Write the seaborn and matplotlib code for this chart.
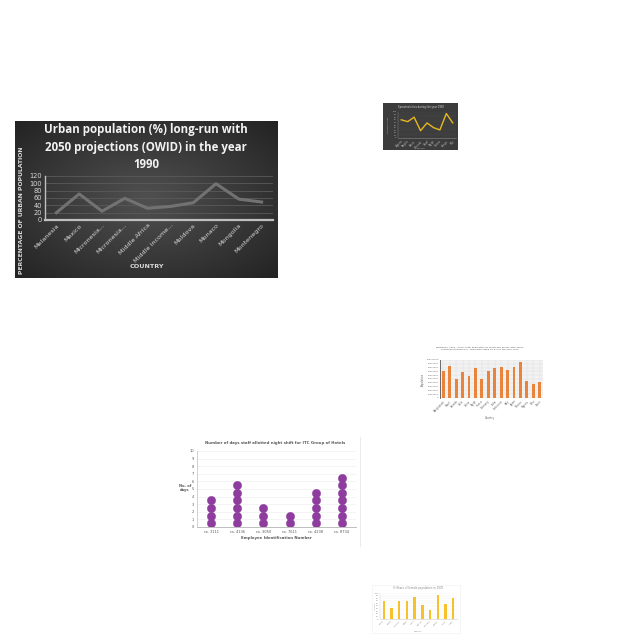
import numpy as np
import pandas as pd
import matplotlib
matplotlib.use("Agg")
import matplotlib.pyplot as plt
import seaborn as sns

# ---------------- data ----------------
# main chart: urban population (%) 1990
countries = ["Melanesia", "Mexico", "Micronesia...", "Micronesia...", "Middle Africa",
             "Middle income...", "Moldova", "Monaco", "Mongolia", "Montenegro"]
urban_pct = [20, 71, 24, 59, 32, 37, 47, 99, 57, 49]
main_yticks = [0, 20, 40, 60, 80, 100, 120]

# thumbnail: yellow line on dark background
cities = ["Algeria", "Angola", "Benin", "Burundi", "Chad", "Egypt", "Ghana", "Kenya", "Mali"]
cities_vals = [70, 63, 80, 28, 58, 40, 31, 94, 58]

# thumbnail: orange bars (population)
pop_countries = ["Bangladesh", "Brazil", "Canada", "Chile", "China", "Egypt", "France", "Germany",
                 "India", "Indonesia", "Italy", "Japan", "Mexico", "Nigeria", "Peru", "Spain"]
pop_vals = [70, 85, 50, 68, 59, 80, 51, 70, 79, 81, 74, 81, 94, 44, 36, 43]

# thumbnail: dot plot of night shifts
employees = ["ra. 3111", "ra. 4136", "ra. 3050", "ra. 7611", "ra. 4238", "ra. 8734"]
night_days = [4, 6, 3, 2, 5, 7]

# thumbnail: yellow bars (% female)
fem_countries = ["Chad", "Cuba", "Ghana", "Haiti", "India", "Kenya", "Malawi", "Nepal", "Peru", "Togo"]
fem_vals = [71, 42, 71, 68, 83, 55, 35, 94, 58, 81]

# ---------------- figure ----------------
W = H = 640
fig = plt.figure(figsize=(6.4, 6.4), dpi=100)
fig.patch.set_facecolor("white")


def px_axes(x0, y0, x1, y1, **kw):
    return fig.add_axes([x0 / W, 1 - y1 / H, (x1 - x0) / W, (y1 - y0) / H], **kw)


# ======== main chart ========
bg = px_axes(15, 121, 278, 278)
gy, gx = np.mgrid[-1:1:200j, -1:1:300j]
r = np.sqrt(gx ** 2 + gy ** 2)
grad = np.clip(1 - r / 1.45, 0, 1)
bg.imshow(grad, cmap=matplotlib.colors.LinearSegmentedColormap.from_list("g", ["#232323", "#505050"]),
          aspect="auto", extent=[0, 1, 0, 1], interpolation="bilinear")
bg.set_xlim(0, 1)
bg.set_ylim(0, 1)
bg.axis("off")

title_lines = ["Urban population (%) long-run with", "2050 projections (OWID) in the year", "1990"]
for i, t in enumerate(title_lines):
    fig.text(146 / W, 1 - (130 + 17 * i) / H, t, ha="center", va="center", color="#f2f2f2",
             fontsize=8.3, fontweight="bold", family="Open Sans")

ax = px_axes(45, 176, 273, 220)
ax.set_facecolor("none")
df_main = pd.DataFrame({"idx": np.arange(len(countries)), "urban": urban_pct})
sns.lineplot(data=df_main, x="idx", y="urban", ax=ax, color="#727272", linewidth=2.2)
ax.set_xlim(-0.5, len(countries) - 0.5)
ax.set_ylim(0, 120)
ax.set_yticks(main_yticks)
ax.set_yticklabels([str(v) for v in main_yticks], fontsize=4.8, color="#d9d9d9")
ax.set_xticks(np.arange(len(countries)))
ax.set_xticklabels(countries, rotation=45, ha="right", rotation_mode="anchor",
                   fontsize=4.6, color="#d9d9d9")
ax.tick_params(length=0, pad=2)
ax.grid(axis="y", color="#5a5a5a", linewidth=0.6)
ax.set_axisbelow(True)
for s in ["top", "right"]:
    ax.spines[s].set_visible(False)
ax.spines["bottom"].set_color("#bfbfbf")
ax.spines["bottom"].set_linewidth(1.6)
ax.spines["left"].set_color("#bfbfbf")
ax.spines["left"].set_linewidth(1.0)
ax.set_xlabel("")
ax.set_ylabel("")
fig.text(147 / W, 1 - 267 / H, "COUNTRY", ha="center", va="center", color="#d9d9d9",
         fontsize=4.6, fontweight="bold")
fig.text(22 / W, 1 - 210 / H, "PERCENTAGE OF URBAN POPULATION", ha="center", va="center",
         rotation=90, color="#d9d9d9", fontsize=4.4, fontweight="bold")

# ======== thumbnail: yellow line, dark ========
bg2 = px_axes(383, 103, 458, 150)
bg2.set_facecolor("#3c3c3c")
bg2.set_xticks([]); bg2.set_yticks([])
for s in bg2.spines.values():
    s.set_visible(False)
fig.text(421 / W, 1 - 107 / H, "Sprouted cities during the year 1990", ha="center", va="center",
         color="#e0e0e0", fontsize=1.8)
ax2 = px_axes(398, 112, 456, 138)
ax2.set_facecolor("none")
df2 = pd.DataFrame({"idx": np.arange(len(cities)), "v": cities_vals})
sns.lineplot(data=df2, x="idx", y="v", ax=ax2, color="#e6b81e", linewidth=1.0)
ax2.set_xlim(-0.5, len(cities) - 0.5)
ax2.set_ylim(0, 100)
ax2.set_yticks(np.arange(0, 101, 10))
ax2.set_yticklabels([str(v) for v in range(0, 101, 10)], fontsize=1.5, color="#bbbbbb")
ax2.set_xticks(np.arange(len(cities)))
ax2.set_xticklabels(cities, rotation=45, ha="right", rotation_mode="anchor", fontsize=1.8, color="#bbbbbb")
ax2.tick_params(length=0, pad=1)
ax2.grid(axis="y", color="#4d4d4d", linewidth=0.3)
for s in ["top", "right"]:
    ax2.spines[s].set_visible(False)
ax2.spines["bottom"].set_color("#888888"); ax2.spines["bottom"].set_linewidth(0.4)
ax2.spines["left"].set_color("#888888"); ax2.spines["left"].set_linewidth(0.3)
ax2.set_xlabel(""); ax2.set_ylabel("")
fig.text(421 / W, 1 - 148 / H, "Country", ha="center", va="center", color="#bbbbbb", fontsize=1.6)
fig.text(388 / W, 1 - 125 / H, "Sprouted cities", ha="center", va="center", rotation=90,
         color="#bbbbbb", fontsize=1.5)

# ======== thumbnail: orange bars ========
ax3 = px_axes(440, 360, 543, 398)
ax3.set_facecolor("#f2f2f2")
df3 = pd.DataFrame({"country": pop_countries, "pop": pop_vals})
sns.barplot(data=df3, x="country", y="pop", ax=ax3, color="#e8843c", width=0.45, saturation=1)
ax3.set_ylim(0, 100)
ax3.set_yticks(np.arange(0, 101, 10))
ax3.set_yticklabels([f"{v * 1000000:d}" for v in range(0, 101, 10)], fontsize=1.5, color="#666666")
ax3.set_xticks(np.arange(len(pop_countries)))
ax3.set_xticklabels(pop_countries, rotation=45, ha="right", rotation_mode="anchor", fontsize=1.8,
                    color="#666666")
ax3.tick_params(length=0, pad=1)
ax3.grid(axis="both", color="#dddddd", linewidth=0.3)
ax3.set_axisbelow(True)
for s in ["top", "right", "bottom"]:
    ax3.spines[s].set_visible(False)
ax3.spines["left"].set_color("#555555"); ax3.spines["left"].set_linewidth(0.6)
ax3.set_xlabel(""); ax3.set_ylabel("")
fig.text(480 / W, 1 - 348 / H,
         "Botswana, 1960 - 2020: Total population by broad age group, both sexes\n"
         "combined (thousands) - Population aged 15-64 for the year 1990",
         ha="center", va="center", color="#555555", fontsize=1.7, linespacing=1.3)
fig.text(490 / W, 1 - 418 / H, "Country", ha="center", va="center", color="#555555", fontsize=1.8)
fig.text(423 / W, 1 - 379 / H, "Population", ha="center", va="center", rotation=90,
         color="#555555", fontsize=1.8)

# ======== thumbnail: dot plot ========
frame4 = px_axes(186, 437, 360, 546)
frame4.set_facecolor("white")
frame4.set_xticks([]); frame4.set_yticks([])
for s in frame4.spines.values():
    s.set_visible(False)
frame4.spines["right"].set_visible(True)
frame4.spines["right"].set_color("#e6e6e6")
frame4.spines["right"].set_linewidth(0.6)

ax4 = px_axes(197, 451, 356, 527)
ax4.set_facecolor("none")
rows = []
for i, (emp, n) in enumerate(zip(employees, night_days)):
    for k in range(n):
        rows.append({"idx": i, "day": k + 0.5})
df4 = pd.DataFrame(rows)
sns.scatterplot(data=df4, x="idx", y="day", ax=ax4, color="#8e3c9e", s=36, edgecolor="#8e3c9e",
                linewidth=0.3, legend=False)
ax4.set_xlim(-0.55, len(employees) - 0.45)
ax4.set_ylim(0, 10)
ax4.set_yticks(range(0, 11))
ax4.set_yticklabels([str(v) for v in range(0, 11)], fontsize=2.6, color="#595959")
ax4.set_xticks(np.arange(len(employees)))
ax4.set_xticklabels(employees, fontsize=2.6, color="#595959")
ax4.tick_params(length=0, pad=2)
ax4.grid(axis="y", color="#ececec", linewidth=0.4)
ax4.set_axisbelow(True)
for s in ["top", "right"]:
    ax4.spines[s].set_visible(False)
ax4.spines["bottom"].set_color("#bfbfbf"); ax4.spines["bottom"].set_linewidth(0.7)
ax4.spines["left"].set_color("#bfbfbf"); ax4.spines["left"].set_linewidth(0.5)
ax4.set_xlabel(""); ax4.set_ylabel("")
fig.text(275 / W, 1 - 443 / H, "Number of days staff allotted night shift for ITC Group of Hotels",
         ha="center", va="center", color="#595959", fontsize=2.8, fontweight="bold")
fig.text(276 / W, 1 - 538 / H, "Employee Identification Number", ha="center", va="center",
         color="#595959", fontsize=2.8, fontweight="bold")
fig.text(185 / W, 1 - 488 / H, "No. of\ndays", ha="center", va="center", color="#595959",
         fontsize=2.6, fontweight="bold", linespacing=1.2)

# ======== thumbnail: yellow bars ========
frame5 = px_axes(372, 585, 460, 633)
frame5.set_facecolor("white")
frame5.set_xticks([]); frame5.set_yticks([])
for s in frame5.spines.values():
    s.set_color("#f0f0f0"); s.set_linewidth(0.4)
ax5 = px_axes(380, 593, 457, 619)
ax5.set_facecolor("none")
df5 = pd.DataFrame({"country": fem_countries, "share": fem_vals})
sns.barplot(data=df5, x="country", y="share", ax=ax5, color="#f7c12c", width=0.3, saturation=1)
ax5.set_ylim(0, 100)
ax5.set_yticks(np.arange(0, 101, 10))
ax5.set_yticklabels([str(v) for v in range(0, 101, 10)], fontsize=1.5, color="#888888")
ax5.set_xticks(np.arange(len(fem_countries)))
ax5.set_xticklabels(fem_countries, rotation=45, ha="right", rotation_mode="anchor", fontsize=1.7,
                    color="#888888")
ax5.tick_params(length=0, pad=1)
ax5.grid(axis="y", color="#eeeeee", linewidth=0.3)
ax5.set_axisbelow(True)
for s in ["top", "right"]:
    ax5.spines[s].set_visible(False)
ax5.spines["bottom"].set_color("#cccccc"); ax5.spines["bottom"].set_linewidth(0.4)
ax5.spines["left"].set_color("#cccccc"); ax5.spines["left"].set_linewidth(0.3)
ax5.set_xlabel(""); ax5.set_ylabel("")
fig.text(418 / W, 1 - 588 / H, "% Share of female population in 1970", ha="center", va="center",
         color="#888888", fontsize=1.9)
fig.text(418 / W, 1 - 631 / H, "Country", ha="center", va="center", color="#888888", fontsize=1.5)
fig.text(375 / W, 1 - 606 / H, "% share", ha="center", va="center", rotation=90,
         color="#888888", fontsize=1.4)

fig.savefig("out.png", dpi=100, facecolor="white")
